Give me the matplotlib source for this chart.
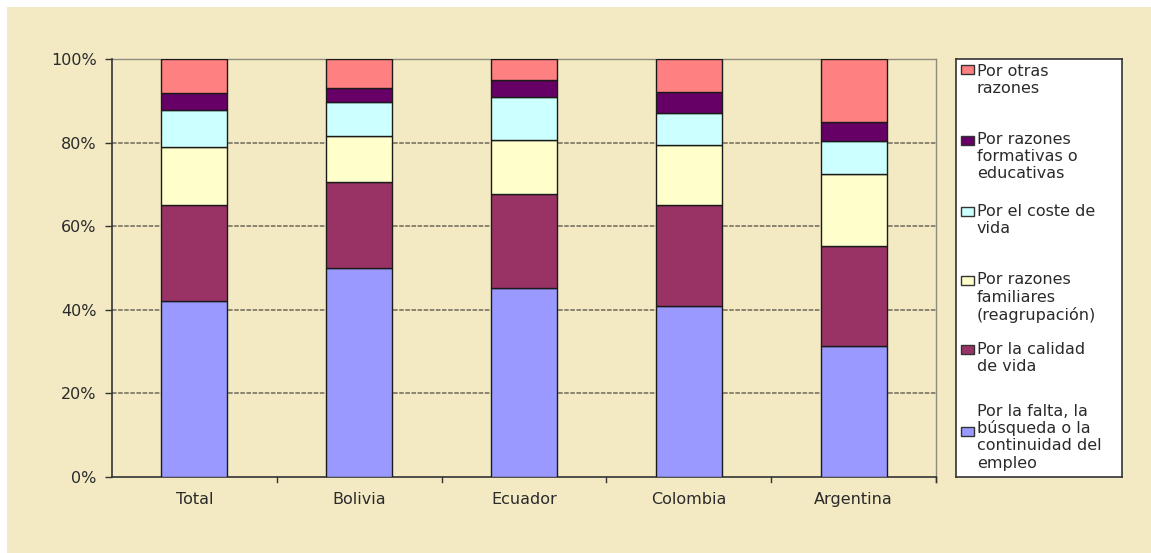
import matplotlib
matplotlib.use("Agg")
import matplotlib.pyplot as plt
from matplotlib.patches import Rectangle
import numpy as np

plt.rcParams['font.family'] = ['DejaVu Sans']

# Categories and shares (%) of each reason for emigrating
categories = ["Total", "Bolivia", "Ecuador", "Colombia", "Argentina"]
empleo      = [42.2, 50.0, 45.2, 40.8, 31.4]
calidad     = [22.8, 20.6, 22.4, 24.2, 23.8]
familiares  = [14.0, 11.0, 13.1, 14.5, 17.3]
coste       = [8.8, 8.2, 10.3, 7.7, 7.9]
formativas  = [4.1, 3.3, 3.9, 5.0, 4.5]
otras       = [8.1, 6.9, 5.1, 7.8, 15.1]

series = [empleo, calidad, familiares, coste, formativas, otras]
series_labels = [
    "Por la falta, la\nbúsqueda o la\ncontinuidad del\nempleo",
    "Por la calidad\nde vida",
    "Por razones\nfamiliares\n(reagrupación)",
    "Por el coste de\nvida",
    "Por razones\nformativas o\neducativas",
    "Por otras\nrazones",
]
colors = ["#9999FF", "#993366", "#FFFFCC", "#CCFFFF", "#660066", "#FF8080"]
yticks = [0, 20, 40, 60, 80, 100]
ytick_labels = ["0%", "20%", "40%", "60%", "80%", "100%"]

W, H = 1151, 553
bg = "#F3EAC4"
txt = "#2a2a2a"
fs = 11.5
fig = plt.figure(figsize=(W / 100, H / 100), dpi=100)
fig.patch.set_facecolor("white")
# beige panel with a thin white margin on the top and left
fig.add_artist(Rectangle((7 / W, 0), 1, 1 - 7 / H, transform=fig.transFigure,
                         facecolor=bg, edgecolor="none", zorder=-10))


def px_box(x0, y0, x1, y1):
    return [x0 / W, (H - y1) / H, (x1 - x0) / W, (y1 - y0) / H]


ax = fig.add_axes(px_box(112, 59, 936, 477))
ax.set_facecolor(bg)

x = np.arange(len(categories))
bottom = np.zeros(len(categories))
for vals, col in zip(series, colors):
    ax.bar(x, vals, width=0.4, bottom=bottom, color=col, edgecolor="#1a1a1a",
           linewidth=1.0, zorder=3)
    bottom += np.array(vals)

ax.set_xlim(-0.5, len(categories) - 0.5)
ax.set_ylim(0, 100)
ax.set_yticks(yticks)
ax.set_yticklabels(ytick_labels, fontsize=fs, color=txt)
ax.set_xticks(x)
ax.set_xticklabels(categories, fontsize=fs, color=txt)
ax.tick_params(axis="x", length=0, pad=11)
ax.tick_params(axis="y", length=5, width=1, color="#333333", pad=6)

# category separators on the x axis
for b in np.arange(0.5, len(categories), 1.0):
    ax.plot([b, b], [0, -1.2], color="#333333", lw=1, clip_on=False, zorder=4)
ax.plot([len(categories) - 0.5] * 2, [0, -1.2], color="#333333", lw=1,
        clip_on=False, zorder=4)

for gy in yticks[1:-1]:
    ax.axhline(gy, color="#6f6a5a", lw=1.1, linestyle=(0, (3, 1)), zorder=1)

for side in ["top", "right"]:
    ax.spines[side].set_color("#8f8b7c")
    ax.spines[side].set_linewidth(1.0)
for side in ["left", "bottom"]:
    ax.spines[side].set_color("#333333")
    ax.spines[side].set_linewidth(1.2)
ax.spines["top"].set_zorder(2)

# legend panel
lax = fig.add_axes(px_box(956, 59, 1122, 477))
lax.set_xlim(0, 166)
lax.set_ylim(418, 0)
lax.set_xticks([])
lax.set_yticks([])
lax.set_facecolor("white")
for sp in lax.spines.values():
    sp.set_color("#333333")
    sp.set_linewidth(1.2)

first_line = [411, 349, 280, 211, 139, 71]
patch_y = [431, 349, 280, 211, 140, 69]
step = 17.4
for lab, col, fy, py in zip(series_labels, colors, first_line, patch_y):
    for i, line in enumerate(lab.split("\n")):
        lax.text(21, fy - 59 + i * step, line, fontsize=fs, color=txt,
                 va="center", ha="left")
    lax.add_patch(Rectangle((5, py - 59 - 4.5), 13, 9, facecolor=col,
                            edgecolor="#333333", linewidth=1.0))

fig.savefig("out.png", dpi=100, facecolor=fig.get_facecolor())
